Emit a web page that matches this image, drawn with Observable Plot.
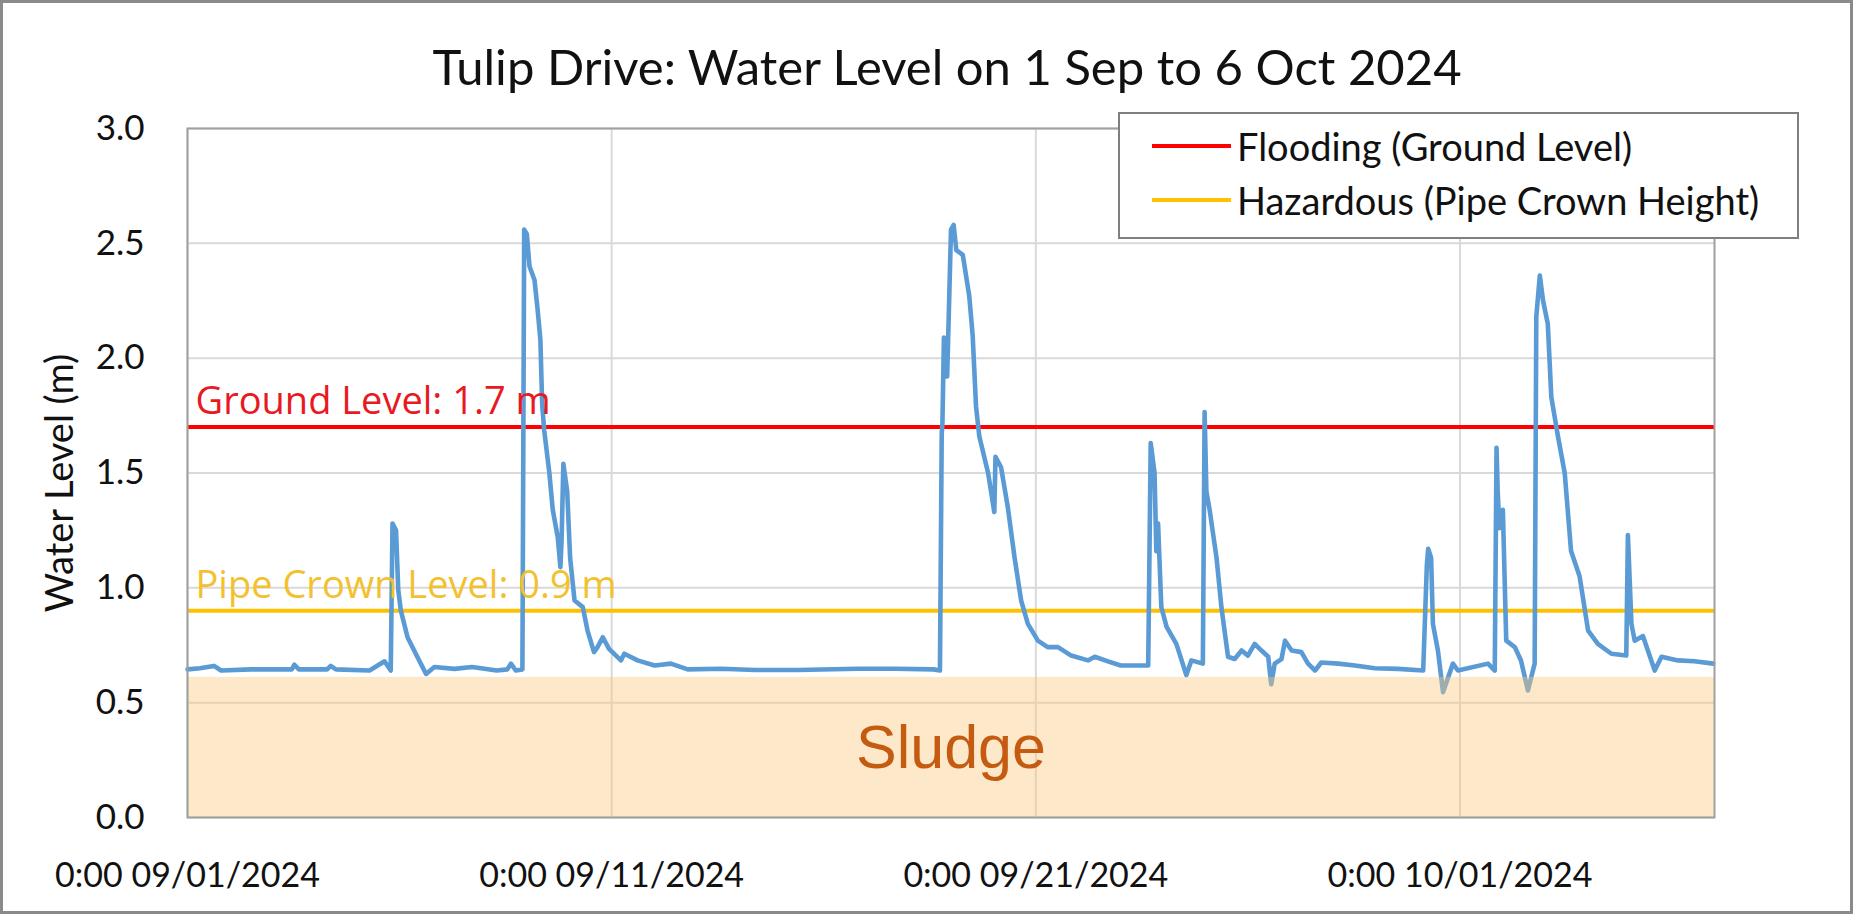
<!DOCTYPE html>
<html>
<head>
<meta charset="utf-8">
<script src="https://cdn.jsdelivr.net/npm/d3@7"></script>
<script src="https://cdn.jsdelivr.net/npm/@observablehq/plot@0.6"></script>
<style>
  html, body { margin: 0; padding: 0; background: #fff; }
  #wrap { position: relative; width: 1853px; height: 914px; overflow: hidden; background: #fff; }
  #border { position: absolute; left: 0; top: 0; width: 1853px; height: 914px; box-sizing: border-box; border: 3px solid #8a8a8a; pointer-events: none; z-index: 10; }
  #title { position: absolute; left: 0; top: 42px; width: 1894px; text-align: center; font-family: Lato, sans-serif; font-size: 49px; line-height: 49px; color: #111; white-space: nowrap; z-index: 3; }
  #chart { position: absolute; left: 0; top: 0; }
  #ylabel { position: absolute; left: 58px; top: 483px; transform: translate(-50%, -50%) rotate(-90deg); font-family: Lato, sans-serif; font-size: 38px; color: #111; white-space: nowrap; z-index: 3; }
  #legend { position: absolute; left: 1118px; top: 112px; width: 681px; height: 127px; box-sizing: border-box; border: 2px solid #7f7f7f; background: #fff; z-index: 4; }
  .row { position: absolute; left: 32px; height: 40px; display: flex; align-items: center; font-family: Lato, sans-serif; font-size: 38px; color: #111; white-space: nowrap; }
  .sw { width: 79px; height: 4px; margin-right: 6px; }
</style>
</head>
<body>
<div id="wrap">
  <div id="chart"></div>
  <div id="title"></div>
  <div id="ylabel"></div>
  <div id="legend"></div>
  <div id="border"></div>
</div>
<script>
// ---- text ----
const titleText = "Tulip Drive: Water Level on 1 Sep to 6 Oct 2024";
const yAxisTitle = "Water Level (m)";

// ---- axes ----
const yTicks = [0, 0.5, 1.0, 1.5, 2.0, 2.5, 3.0];
const xTickDates = ["2024-09-01", "2024-09-11", "2024-09-21", "2024-10-01"];
const xTickLabels = ["0:00 09/01/2024", "0:00 09/11/2024", "0:00 09/21/2024", "0:00 10/01/2024"];
const xDomain = ["2024-09-01", "2024-10-07"];
const yDomain = [0, 3];

// ---- reference levels ----
const refNames = ["Flooding (Ground Level)", "Hazardous (Pipe Crown Height)"];
const refLabels = ["Ground Level: 1.7 m", "Pipe Crown Level: 0.9 m"];
const refLevels = [1.7, 0.9];
const refColors = ["#FF0000", "#FFC000"];
const refTextColors = ["#E81A1F", "#F3C130"];

// ---- sludge zone ----
const sludgeRange = [0, 0.61];
const sludgeLabel = ["Sludge"];
const sludgeLabelLevel = [0.3];

// ---- water level series (MM-DD HH:MM, 2024) ----
const times = [
"09-01 00:00","09-01 07:00","09-01 15:00","09-01 19:00","09-02 12:00","09-03 11:00","09-03 12:30","09-03 15:00",
"09-04 07:00","09-04 09:00","09-04 12:00","09-05 07:00","09-05 15:30","09-05 19:00","09-05 20:00","09-05 22:00",
"09-05 23:15","09-06 00:45","09-06 04:30","09-06 10:00","09-06 15:00","09-06 19:40","09-07 07:00","09-07 17:00",
"09-08 07:00","09-08 13:00","09-08 15:00","09-08 17:45","09-08 21:30","09-08 22:30","09-09 00:00","09-09 01:30",
"09-09 04:20","09-09 06:00","09-09 07:40","09-09 08:40","09-09 09:50","09-09 12:45","09-09 14:40","09-09 17:30",
"09-09 19:00","09-09 19:40","09-09 20:40","09-09 22:50","09-10 00:30","09-10 03:00","09-10 07:40","09-10 10:20",
"09-10 14:00","09-10 16:00","09-10 19:00","09-10 22:30","09-11 05:15","09-11 07:10","09-11 14:40","09-12 00:15",
"09-12 09:30","09-12 19:00","09-13 14:00","09-14 09:00","09-15 09:20","09-16 19:00","09-17 16:00","09-18 14:00",
"09-18 17:45","09-18 18:45","09-18 19:10","09-18 20:00","09-18 21:50","09-19 00:00","09-19 01:30","09-19 03:00",
"09-19 06:40","09-19 10:20","09-19 12:15","09-19 14:10","09-19 16:00","09-19 21:00","09-20 00:30","09-20 01:10",
"09-20 04:20","09-20 08:10","09-20 12:00","09-20 15:40","09-20 19:30","09-21 01:10","09-21 06:40","09-21 12:30",
"09-21 20:00","09-22 05:30","09-22 09:20","09-22 16:50","09-23 00:00","09-23 15:35","09-23 17:00","09-23 19:10",
"09-23 20:10","09-23 21:10","09-23 23:00","09-24 02:00","09-24 07:30","09-24 13:10","09-24 16:00","09-24 22:30",
"09-24 23:30","09-25 00:30","09-25 02:20","09-25 06:15","09-25 09:00","09-25 12:45","09-25 16:30","09-25 20:25",
"09-26 00:00","09-26 03:50","09-26 07:40","09-26 11:30","09-26 13:10","09-26 15:10","09-26 19:00","09-26 21:00",
"09-27 00:45","09-27 06:15","09-27 10:00","09-27 14:00","09-27 17:30","09-28 03:10","09-28 12:30","09-28 23:45",
"09-29 13:00","09-30 03:10","09-30 05:15","09-30 06:00","09-30 07:40","09-30 08:40","09-30 11:30","09-30 14:25",
"09-30 20:00","09-30 22:50","10-01 15:50","10-01 19:40","10-01 20:40","10-01 21:20","10-01 22:20","10-02 00:15",
"10-02 02:10","10-02 07:00","10-02 10:30","10-02 14:25","10-02 18:15","10-02 19:10","10-02 21:10","10-02 23:00",
"10-03 01:40","10-03 03:40","10-03 07:25","10-03 11:15","10-03 14:50","10-03 19:40","10-04 00:30","10-04 06:00",
"10-04 13:40","10-04 22:05","10-04 23:00","10-05 01:00","10-05 02:50","10-05 07:30","10-05 14:10","10-05 18:00",
"10-06 03:20","10-06 12:40","10-06 23:20"
];
const levels = [
0.645,0.650,0.660,0.640,0.645,0.645,0.665,0.645,
0.645,0.660,0.645,0.640,0.680,0.640,1.280,1.250,
0.990,0.900,0.785,0.700,0.625,0.655,0.647,0.655,
0.640,0.645,0.670,0.640,0.645,2.560,2.540,2.400,
2.340,2.220,2.080,1.800,1.685,1.500,1.340,1.220,
1.090,1.210,1.540,1.420,1.130,0.945,0.916,0.814,
0.720,0.742,0.785,0.734,0.684,0.713,0.684,0.662,
0.670,0.645,0.648,0.642,0.642,0.648,0.648,0.645,
0.640,1.670,1.720,2.090,1.920,2.560,2.580,2.470,
2.450,2.270,2.100,1.790,1.660,1.500,1.330,1.570,
1.525,1.350,1.130,0.945,0.843,0.770,0.742,0.742,
0.705,0.684,0.700,0.680,0.662,0.662,1.630,1.500,
1.160,1.280,0.916,0.830,0.756,0.620,0.684,0.670,
1.765,1.420,1.340,1.130,0.916,0.700,0.690,0.727,
0.705,0.756,0.727,0.700,0.580,0.670,0.690,0.770,
0.727,0.720,0.670,0.640,0.675,0.670,0.662,0.650,
0.647,0.640,1.100,1.170,1.130,0.843,0.727,0.546,
0.670,0.640,0.670,0.640,1.610,1.420,1.260,1.340,
0.770,0.742,0.684,0.553,0.670,2.180,2.360,2.250,
2.150,1.830,1.660,1.500,1.160,1.050,0.814,0.756,
0.713,0.705,1.230,0.843,0.770,0.790,0.640,0.700,
0.684,0.680,0.670
];

// ---- build ----
const parseT = d3.utcParse("%Y-%m-%d %H:%M");
const parseD = d3.utcParse("%Y-%m-%d");
const series = times.map((t, i) => ({t: parseT("2024-" + t), v: levels[i]}));
const xTicks = xTickDates.map(parseD);
const xDom = xDomain.map(parseD);
const refs = refLevels.map((v, i) => ({v, label: refLabels[i], color: refColors[i], tcolor: refTextColors[i], x: xDom[0]}));
const sludge = [{x1: xDom[0], x2: xDom[1], y1: sludgeRange[0], y2: sludgeRange[1]}];

const chart = Plot.plot({
  width: 1853,
  height: 914,
  marginLeft: 187,
  marginRight: 139,
  marginTop: 128,
  marginBottom: 97,
  style: {fontFamily: "Lato, sans-serif", color: "#111", background: "transparent"},
  x: {type: "utc", domain: xDom},
  y: {domain: yDomain},
  marks: [
    Plot.ruleY(yTicks, {stroke: "#d9d9d9", strokeWidth: 2}),
    Plot.ruleX(xTicks, {stroke: "#d9d9d9", strokeWidth: 2}),
    Plot.ruleY(refs, {y: "v", stroke: "color", strokeWidth: 4}),
    Plot.line(series, {x: "t", y: "v", stroke: "#5B9BD5", strokeWidth: 4.6, strokeLinejoin: "round", strokeLinecap: "round"}),
    Plot.rect(sludge, {x1: "x1", x2: "x2", y1: "y1", y2: "y2", fill: "#F9C77A", fillOpacity: 0.4}),
    Plot.text(refs, {x: "x", y: "v", text: "label", fill: "tcolor", textAnchor: "start", lineAnchor: "bottom", dx: 8, dy: -13, fontSize: 38, fontFamily: "'Open Sans', sans-serif"}),
    Plot.text(sludgeLabel, {y: sludgeLabelLevel, text: d => d, fill: "#C55A11", fontSize: 61, fontFamily: "'Liberation Sans', Arial, sans-serif"}),
    Plot.frame({stroke: "#a0a0a0", strokeWidth: 2}),
    Plot.axisY(yTicks, {tickSize: 0, tickPadding: 43, tickFormat: d3.format(".1f"), fontSize: 35, label: null}),
    Plot.axisX(xTicks, {tickSize: 0, tickPadding: 45, tickFormat: (d, i) => xTickLabels[i], fontSize: 34, label: null})
  ]
});
document.getElementById("chart").appendChild(chart);

document.getElementById("title").textContent = titleText;
document.getElementById("ylabel").textContent = yAxisTitle;

const legend = document.getElementById("legend");
refNames.forEach((name, i) => {
  const row = document.createElement("div");
  row.className = "row";
  row.style.top = (i === 0 ? 12 : 66) + "px";
  const sw = document.createElement("span");
  sw.className = "sw";
  sw.style.background = refColors[i];
  const tx = document.createElement("span");
  tx.textContent = name;
  row.appendChild(sw);
  row.appendChild(tx);
  legend.appendChild(row);
});
</script>
</body>
</html>
